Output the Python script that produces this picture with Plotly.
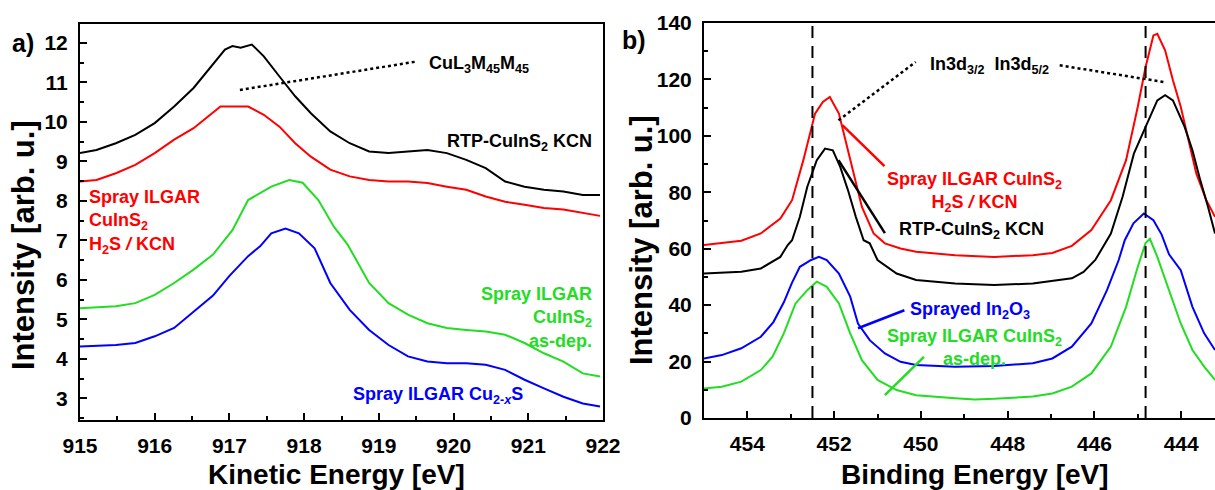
import plotly.graph_objects as go

# ---------------- Panel a) data (Kinetic Energy) ----------------
ke_black = [915.00, 915.22, 915.48, 915.74, 916.00, 916.26, 916.52, 916.78, 916.94, 917.04, 917.15,
            917.30, 917.46, 917.67, 917.88, 918.09, 918.35, 918.61, 918.87, 919.13, 919.39, 919.65,
            919.91, 920.17, 920.43, 920.69, 920.95, 921.21, 921.47, 921.73, 921.96]
int_black = [9.21, 9.29, 9.46, 9.67, 9.97, 10.39, 10.86, 11.45, 11.83, 11.92, 11.88,
             11.96, 11.66, 11.15, 10.65, 10.22, 9.76, 9.46, 9.25, 9.21, 9.25, 9.29,
             9.21, 9.04, 8.83, 8.49, 8.36, 8.28, 8.24, 8.15, 8.15]

ke_red = [915.00, 915.22, 915.48, 915.74, 916.00, 916.26, 916.52, 916.78, 916.88, 917.04, 917.25,
          917.46, 917.67, 917.88, 918.09, 918.35, 918.61, 918.87, 919.13, 919.39, 919.65, 919.91,
          920.17, 920.43, 920.69, 920.95, 921.21, 921.47, 921.73, 921.96]
int_red = [8.49, 8.53, 8.70, 8.91, 9.21, 9.55, 9.84, 10.22, 10.39, 10.39, 10.39,
           10.18, 9.88, 9.46, 9.12, 8.79, 8.62, 8.53, 8.49, 8.49, 8.45, 8.36,
           8.28, 8.11, 7.98, 7.90, 7.82, 7.78, 7.70, 7.62]

ke_green = [915.00, 915.48, 915.74, 916.00, 916.26, 916.52, 916.78, 916.94, 917.04, 917.25, 917.56,
            917.80, 917.98, 918.19, 918.40, 918.58, 918.87, 919.13, 919.39, 919.65, 919.91, 920.17,
            920.43, 920.69, 920.95, 921.21, 921.47, 921.73, 921.96]
int_green = [5.28, 5.33, 5.41, 5.62, 5.92, 6.26, 6.64, 7.02, 7.26, 8.02, 8.36,
             8.53, 8.46, 8.02, 7.34, 6.90, 5.92, 5.41, 5.12, 4.90, 4.78, 4.73,
             4.69, 4.61, 4.40, 4.14, 3.93, 3.63, 3.55]

ke_blue = [915.00, 915.48, 915.74, 916.00, 916.26, 916.52, 916.78, 917.00, 917.25, 917.41, 917.56,
           917.75, 917.93, 918.14, 918.35, 918.61, 918.87, 919.13, 919.39, 919.65, 919.91, 920.17,
           920.43, 920.69, 920.95, 921.21, 921.47, 921.73, 921.96]
int_blue = [4.31, 4.35, 4.40, 4.57, 4.78, 5.20, 5.60, 6.10, 6.60, 6.85, 7.18,
            7.30, 7.18, 6.80, 5.92, 5.24, 4.73, 4.35, 4.06, 3.93, 3.89, 3.89,
            3.85, 3.72, 3.47, 3.25, 3.04, 2.87, 2.79]

# ---------------- Panel b) data (Binding Energy) ----------------
be_red = [455.00, 454.59, 454.14, 453.69, 453.24, 452.97, 452.71, 452.44, 452.26, 452.10, 451.89,
          451.72, 451.54, 451.36, 451.09, 450.83, 450.47, 450.11, 449.21, 448.31, 447.42, 446.97,
          446.52, 446.07, 445.62, 445.27, 445.00, 444.82, 444.64, 444.55, 444.37, 444.19, 444.01,
          443.83, 443.65, 443.42, 443.22]
in_red = [61.3, 61.9, 62.8, 65.4, 70.7, 77.2, 91.4, 107.9, 112.0, 113.8, 107.9,
          97.3, 85.5, 74.8, 65.4, 61.9, 60.1, 58.9, 57.7, 57.1, 57.7, 58.5,
          61.0, 66.6, 77.2, 91.4, 110.3, 124.4, 135.6, 136.2, 130.3, 119.7, 110.3,
          98.4, 86.6, 77.2, 71.3]

be_black = [455.00, 454.59, 454.14, 453.69, 453.24, 453.07, 452.97, 452.79, 452.62, 452.40, 452.21,
            452.03, 451.86, 451.68, 451.50, 451.32, 451.18, 451.00, 450.56, 450.11, 449.21, 448.31,
            447.42, 446.52, 446.25, 445.98, 445.80, 445.62, 445.35, 445.09, 444.82, 444.55, 444.37,
            444.19, 443.92, 443.74, 443.56, 443.38, 443.22]
in_black = [51.2, 51.5, 51.8, 53.0, 57.1, 61.3, 63.0, 71.3, 81.9, 91.4, 95.5,
            94.9, 89.0, 80.7, 71.3, 63.0, 61.9, 56.0, 51.2, 48.9, 47.7, 47.1,
            47.7, 49.5, 51.8, 56.0, 60.7, 65.4, 78.4, 93.7, 103.2, 112.6, 114.4,
            112.6, 103.2, 94.9, 84.3, 74.8, 65.4]

be_blue = [455.00, 454.59, 454.14, 453.69, 453.40, 453.16, 452.97, 452.79, 452.53, 452.35, 452.17,
           451.89, 451.63, 451.45, 451.18, 450.83, 450.47, 450.11, 449.21, 448.31, 447.42, 446.97,
           446.52, 446.07, 445.71, 445.44, 445.30, 445.10, 444.86, 444.64, 444.45, 444.28, 444.01,
           443.74, 443.47, 443.22]
in_blue = [21.1, 22.3, 24.7, 28.8, 34.0, 41.0, 48.0, 53.6, 56.0, 57.1, 56.0,
           51.2, 43.0, 33.5, 27.6, 22.9, 19.9, 18.8, 18.2, 18.4, 19.4, 21.1,
           25.3, 33.5, 45.3, 56.0, 63.0, 69.0, 72.5, 70.1, 65.0, 58.0, 52.4,
           39.4, 30.0, 24.1]

be_green = [455.00, 454.59, 454.14, 453.69, 453.42, 453.16, 452.89, 452.62, 452.40, 452.17, 451.89,
            451.63, 451.36, 451.00, 450.56, 450.11, 449.21, 448.76, 448.31, 447.42, 446.97, 446.52,
            446.07, 445.62, 445.27, 445.00, 444.82, 444.72, 444.55, 444.28, 444.01, 443.74, 443.47,
            443.22]
in_green = [10.5, 11.1, 12.9, 17.0, 21.7, 30.0, 40.6, 45.3, 48.3, 46.5, 40.6,
            30.0, 20.5, 13.5, 9.9, 8.1, 7.0, 6.6, 6.8, 7.6, 8.7, 11.1,
            15.8, 25.3, 39.4, 53.6, 62.0, 63.5, 57.1, 45.3, 33.5, 24.1, 18.2,
            13.5]

# reference lines / annotation guides
dashed_be = [452.5, 444.82]
cu_dot = ([917.14, 919.51], [10.81, 11.53])
in_dot_left = ([451.90, 450.12], [105.5, 126.2])
in_dot_right = ([446.80, 444.41], [125.0, 119.1])
lead_red = ([451.81, 450.84], [103.8, 89.3])
lead_black = ([451.90, 450.83], [91.4, 65.5])
lead_blue = ([451.45, 450.38], [31.8, 38.2])
lead_green = ([450.83, 449.93], [8.1, 21.7])

RED = "#ff0000"
BLACK = "#000000"
GREEN = "#22dd22"
BLUE = "#0000ff"
FONT = "Liberation Sans, Arial, sans-serif"

fig = go.Figure()

def add(x, y, color, xa, ya):
    fig.add_trace(go.Scatter(x=x, y=y, mode="lines", line=dict(color=color, width=2),
                             xaxis=xa, yaxis=ya, showlegend=False, hoverinfo="skip"))

add(ke_black, int_black, BLACK, "x", "y")
add(ke_red, int_red, RED, "x", "y")
add(ke_green, int_green, GREEN, "x", "y")
add(ke_blue, int_blue, BLUE, "x", "y")

add(be_red, in_red, RED, "x2", "y2")
add(be_black, in_black, BLACK, "x2", "y2")
add(be_blue, in_blue, BLUE, "x2", "y2")
add(be_green, in_green, GREEN, "x2", "y2")

tickfont = dict(family=FONT, size=21, color="black", weight="bold")
axcommon = dict(showline=True, linecolor="black", linewidth=2, ticks="inside",
                tickcolor="black", tickwidth=2, ticklen=7, showgrid=False, zeroline=False,
                tickfont=tickfont, automargin=False)
minor_kw = dict(ticks="inside", ticklen=4, tickcolor="black", tickwidth=2)

fig.update_layout(
    width=1215, height=490,
    margin=dict(l=0, r=0, t=0, b=0),
    paper_bgcolor="white", plot_bgcolor="white",
    xaxis=dict(domain=[80 / 1215, 603 / 1215], range=[915, 922], dtick=1, tick0=915,
               anchor="y", ticklabelstandoff=6, mirror=True,
               minor=dict(dtick=0.5, **minor_kw), **axcommon),
    yaxis=dict(domain=[1 - 420 / 490, 1 - 24 / 490], range=[2.45, 12.48], dtick=1, tick0=3,
               anchor="x", ticklabelstandoff=6, mirror=True,
               minor=dict(dtick=0.5, **minor_kw), **axcommon),
    xaxis2=dict(domain=[704 / 1215, 1.0], range=[455, 443.22], dtick=2, tick0=444,
                anchor="y2", ticklabelstandoff=6, mirror=True,
                minor=dict(dtick=1, **minor_kw), **axcommon),
    yaxis2=dict(domain=[1 - 418 / 490, 1 - 23 / 490], range=[0, 140], dtick=20, tick0=0,
                anchor="x2", ticklabelstandoff=6, mirror=False,
                minor=dict(dtick=10, **minor_kw), **axcommon),
)

# dashed vertical lines
for xv in dashed_be:
    fig.add_shape(type="line", xref="x2", yref="y2 domain", x0=xv, x1=xv, y0=0, y1=1,
                  line=dict(color="black", width=2, dash="12px,8px"))

def seg(pts, color, xr, yr, dash="solid", width=2.5):
    fig.add_shape(type="line", xref=xr, yref=yr, x0=pts[0][0], x1=pts[0][1],
                  y0=pts[1][0], y1=pts[1][1], line=dict(color=color, width=width, dash=dash))

seg(cu_dot, BLACK, "x", "y", dash="dot", width=2.5)
seg(in_dot_left, BLACK, "x2", "y2", dash="dot", width=2.5)
seg(in_dot_right, BLACK, "x2", "y2", dash="dot", width=2.5)
seg(lead_red, RED, "x2", "y2")
seg(lead_black, BLACK, "x2", "y2")
seg(lead_blue, BLUE, "x2", "y2")
seg(lead_green, GREEN, "x2", "y2")

def txt(x, y, text, color, xr="x", yr="y", xanchor="left", yanchor="middle", size=18, align="left"):
    fig.add_annotation(x=x, y=y, xref=xr, yref=yr, text=text, showarrow=False,
                       xanchor=xanchor, yanchor=yanchor, align=align,
                       font=dict(family=FONT, size=size, color=color, weight="bold"))

# Panel a) labels
txt(919.64, 11.45, "CuL<sub>3</sub>M<sub>45</sub>M<sub>45</sub>", BLACK)
txt(921.88, 9.47, "RTP-CuInS<sub>2</sub> KCN", BLACK, xanchor="right")
txt(915.09, 7.46, "Spray ILGAR<br>CuInS<sub>2</sub><br>H<sub>2</sub>S <i>/</i> KCN", RED)
txt(921.88, 5.04, "Spray ILGAR<br>CuInS<sub>2</sub><br>as-dep.", GREEN, xanchor="right", align="right")
txt(918.63, 3.08, "Spray ILGAR Cu<sub>2-<i>x</i></sub>S", BLUE)

# Panel b) labels
txt(449.84, 125.0, "In3d<sub>3/2</sub>  In3d<sub>5/2</sub>", BLACK, xr="x2", yr="y2")
txt(448.76, 80.1, "Spray ILGAR CuInS<sub>2</sub><br>H<sub>2</sub>S <i>/</i> KCN", RED, xr="x2", yr="y2",
    xanchor="center", align="center")
txt(450.55, 66.6, "RTP-CuInS<sub>2</sub> KCN", BLACK, xr="x2", yr="y2")
txt(450.29, 38.2, "Sprayed In<sub>2</sub>O<sub>3</sub>", BLUE, xr="x2", yr="y2")
txt(448.76, 25.0, "Spray ILGAR CuInS<sub>2</sub><br>as-dep.", GREEN, xr="x2", yr="y2",
    xanchor="center", align="center")

# Axis titles and panel letters
def ptxt(x, y, text, size, angle=0, xanchor="center"):
    fig.add_annotation(x=x, y=y, xref="paper", yref="paper", text=text, showarrow=False,
                       xanchor=xanchor, yanchor="middle", textangle=angle,
                       font=dict(family=FONT, size=size, color="black", weight="bold"))

ptxt(336.7 / 1215, 1 - 474 / 490, "Kinetic Energy [eV]", 28)
ptxt(974.7 / 1215, 1 - 474 / 490, "Binding Energy [eV]", 28)
ptxt(23 / 1215, 1 - 245 / 490, "Intensity [arb. u.]", 31, angle=-90)
ptxt(641 / 1215, 1 - 240 / 490, "Intensity [arb. u.]", 31, angle=-90)
ptxt(10 / 1215, 1 - 43 / 490, "a)", 25, xanchor="left")
ptxt(620 / 1215, 1 - 40 / 490, "b)", 25, xanchor="left")

fig.write_html("out.html")
